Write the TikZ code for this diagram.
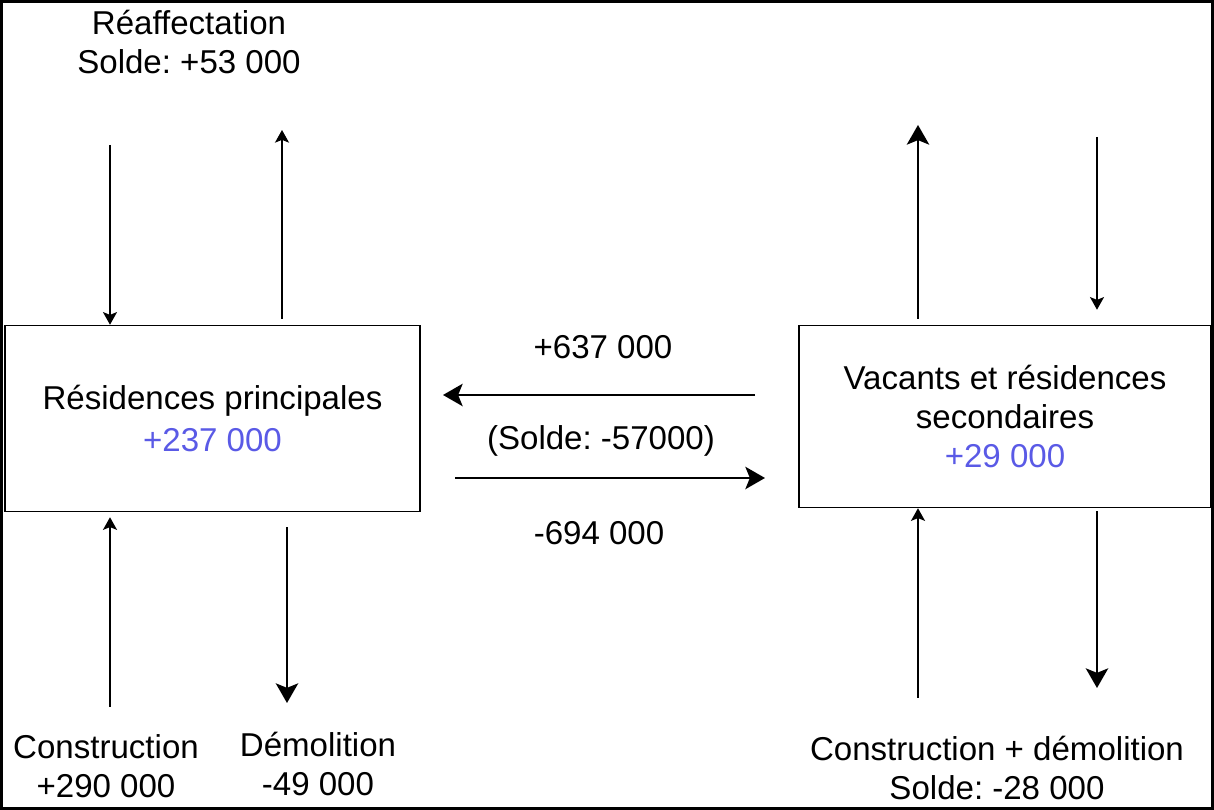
\documentclass[tikz,border=0pt]{standalone}
\usepackage{fontspec}
\setmainfont{Liberation Sans}
\usetikzlibrary{arrows.meta}
\definecolor{valblue}{RGB}{90,90,230}
\frenchspacing
\tikzset{
  lbl/.style={align=center, inner sep=0pt, font=\fontsize{9.4}{11.1}\selectfont},
  stockbox/.style={draw, line width=0.4pt, align=center, inner sep=0pt,
    font=\fontsize{9.4}{11.1}\selectfont},
  bigflow/.style={line width=0.45pt, -{Stealth[length=5.6pt,width=6.4pt,inset=1.3pt]}},
  smallflow/.style={line width=0.45pt, -{Stealth[length=3.6pt,width=4pt,inset=0.8pt]}},
}
\begin{document}
\begin{tikzpicture}[x=0.01cm,y=-0.01cm]
\useasboundingbox (0,0) rectangle (1214,810);
\draw[line width=0.6pt] (1.5,1.5) rectangle (1212.5,808.5);

\node[stockbox, minimum width=4.15cm, minimum height=1.86cm] (rp) at (212.5,418.5)
  {Résidences principales\\[1pt]{\color{valblue}+237 000}};
\node[stockbox, minimum width=4.12cm, minimum height=1.82cm] (vr) at (1005,416.5)
  {Vacants et résidences\\secondaires\\{\color{valblue}+29 000}};

\node[lbl] (reaf) at (189,42) {Réaffectation\\Solde: +53 000};
\node[lbl] (cons) at (106,766) {Construction\\+290 000};
\node[lbl] (demo) at (318,764) {Démolition\\-49 000};
\node[lbl] (cdem) at (997,768) {Construction + démolition\\Solde: -28 000};
\node[lbl] (in) at (603,347) {+637 000};
\node[lbl] (bal) at (601,441) {(Solde: -57000)};
\node[lbl] (out) at (599,533) {-694 000};

\coordinate (a1) at (110,145);
\coordinate (a2) at (282,130);
\coordinate (a3) at (110,707);
\coordinate (a4) at (287,703);
\coordinate (b1) at (918,125);
\coordinate (b2) at (1097,137);
\coordinate (b3) at (918,698);
\coordinate (b4) at (1097,688);
\coordinate (m1) at (755,395);
\coordinate (m2) at (443,395);
\coordinate (m3) at (455,478);
\coordinate (m4) at (765,478);

\draw[smallflow] (a1) -- (a1 |- rp.north);
\draw[smallflow] ([yshift=0.06cm]a2 |- rp.north) -- (a2);
\draw[smallflow] (a3) -- ([yshift=-0.05cm]a3 |- rp.south);
\draw[bigflow] ([yshift=-0.15cm]a4 |- rp.south) -- (a4);

\draw[bigflow] (m1) -- (m2);
\draw[bigflow] (m3) -- (m4);

\draw[bigflow] ([yshift=0.06cm]b1 |- vr.north) -- (b1);
\draw[smallflow] (b2) -- ([yshift=0.15cm]b2 |- vr.north);
\draw[smallflow] (b3) -- (b3 |- vr.south);
\draw[bigflow] ([yshift=-0.03cm]b4 |- vr.south) -- (b4);
\end{tikzpicture}
\end{document}
